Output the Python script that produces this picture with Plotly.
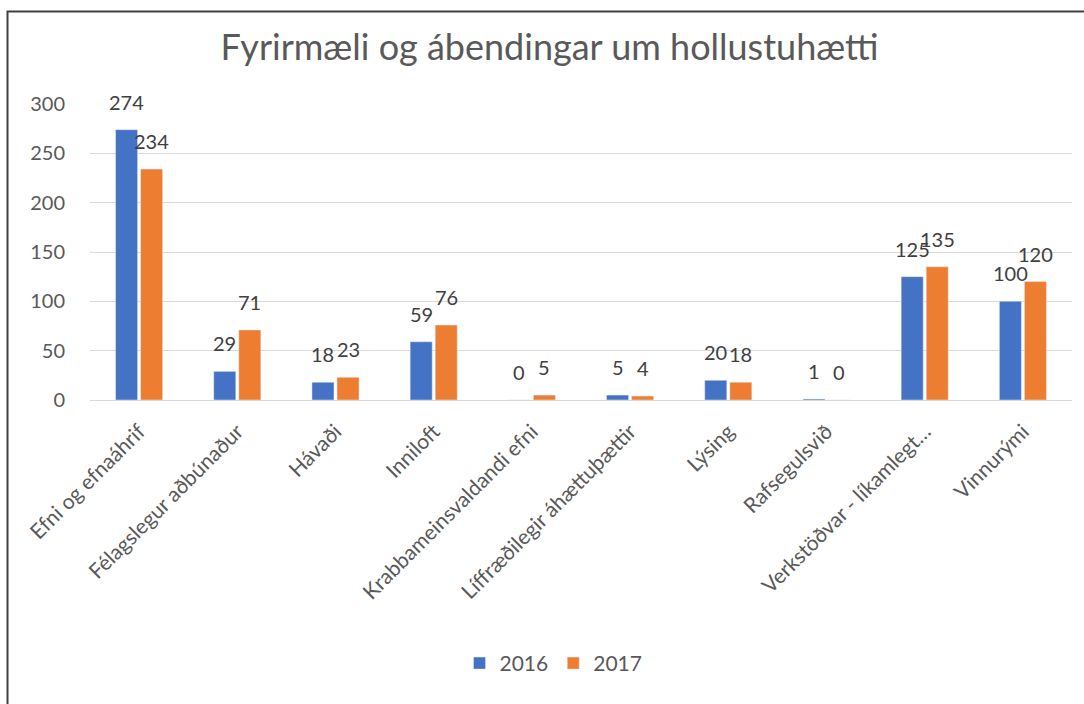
import plotly.graph_objects as go

# categories and values
categories = [
    "Efni og efnaáhrif",
    "Félagslegur aðbúnaður",
    "Hávaði",
    "Inniloft",
    "Krabbameinsvaldandi efni",
    "Líffræðilegir áhættuþættir",
    "Lýsing",
    "Rafsegulsvið",
    "Verkstöðvar - líkamlegt…",
    "Vinnurými",
]
values_2016 = [274, 29, 18, 59, 0, 5, 20, 1, 125, 100]
values_2017 = [234, 71, 23, 76, 5, 4, 18, 0, 135, 120]
y_ticks = [0, 50, 100, 150, 200, 250, 300]

FONT = "Lato"
TEXT = "#595959"
BLUE = "#4472C4"
ORANGE = "#ED7D31"
BARGAP = 0.49
GROUPGAP = 0.12

fig = go.Figure()
fig.add_trace(go.Bar(name="2016", x=categories, y=values_2016, marker_color=BLUE))
fig.add_trace(go.Bar(name="2017", x=categories, y=values_2017, marker_color=ORANGE))

# data labels above each bar (Excel style, sitting a little higher than plotly's "outside")
slot = (1 - BARGAP) / 2
for k, vals in enumerate([values_2016, values_2017]):
    shift = (k - 0.5) * slot
    for i, v in enumerate(vals):
        fig.add_annotation(
            x=i + shift, y=v, xref="x", yref="y",
            text=str(v), showarrow=False,
            yanchor="bottom", yshift=14,
            font=dict(family=FONT, size=20, color="#404040"),
        )

# chart border (only left and top edges are visible in the frame)
fig.add_shape(
    type="rect", xref="paper", yref="paper",
    x0=-0.084, x1=1.2, y0=-1.5, y1=1.3125,
    line=dict(color="#404040", width=2), fillcolor="rgba(0,0,0,0)",
    layer="below",
)

fig.update_layout(
    width=1084, height=704,
    margin=dict(l=90, r=12, t=104, b=304),
    paper_bgcolor="white", plot_bgcolor="white",
    barmode="group", bargap=BARGAP, bargroupgap=GROUPGAP,
    font=dict(family=FONT, color=TEXT),
    title=dict(
        text="Fyrirmæli og ábendingar um hollustuhætti",
        x=0.507, xref="container", xanchor="center",
        y=0.932, yref="container", yanchor="middle",
        font=dict(family=FONT, size=36, color=TEXT),
    ),
    legend=dict(
        orientation="h", x=0.472, xanchor="center", y=-0.89, yanchor="middle",
        font=dict(family=FONT, size=21, color=TEXT),
    ),
    showlegend=True,
)
fig.update_xaxes(
    tickangle=-45, tickfont=dict(family=FONT, size=21, color=TEXT),
    showline=True, linecolor="#D9D9D9", linewidth=1,
    ticks="outside", ticklen=10, tickcolor="rgba(0,0,0,0)",
    fixedrange=True,
)
fig.update_yaxes(
    range=[0, 300], tickvals=y_ticks,
    tickfont=dict(family=FONT, size=20, color=TEXT),
    showgrid=True, gridcolor="#D9D9D9", gridwidth=1,
    zeroline=False, ticklabelstandoff=24,
    fixedrange=True,
)

# drop the default body margin so the figure sits flush with the window
fig.write_html(
    "out.html",
    config={"displayModeBar": False},
    post_script="document.body.style.margin='0';",
)
